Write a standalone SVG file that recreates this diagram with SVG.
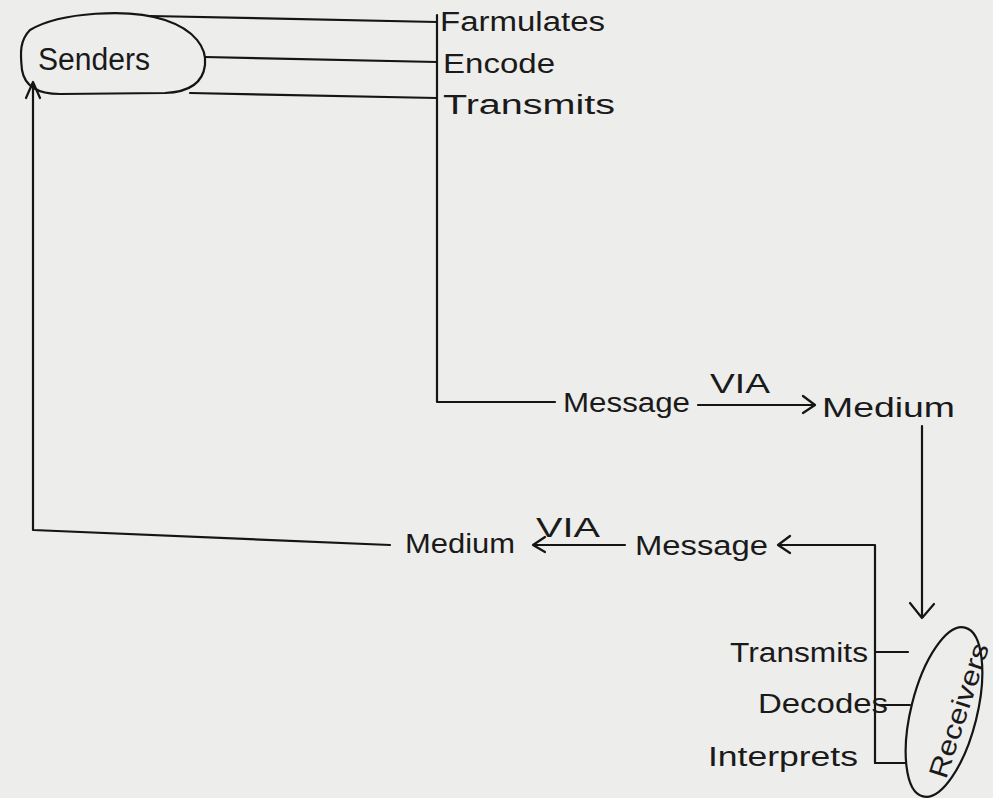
<svg xmlns="http://www.w3.org/2000/svg" width="993" height="798" viewBox="0 0 993 798">
<defs>
<style>
.t{font-family:"Liberation Sans",Arial,sans-serif;font-size:27px;fill:#1a1a1a}
.l{fill:none;stroke:#151515;stroke-width:2.2;stroke-linecap:round;stroke-linejoin:round}
</style>
</defs>
<rect width="993" height="798" fill="#ededeb"/>
<g id="connectors">
<path class="l" d="M150,16 L437,22"/>
<path class="l" d="M205,57 L437,62"/>
<path class="l" d="M190,93 L437,98"/>
<path class="l" d="M437,15 L437,402 L555,402"/>
<path class="l" d="M698,405 L815,405 M803,396 L815,405 L803,413"/>
<path class="l" d="M922,426 L922,618 M910,603 L922,618 L934,604"/>
<path class="l" d="M875,545 L778,545 M790,536 L778,545 L790,553 M875,545 L875,763"/>
<path class="l" d="M875,652 L908,652 M875,763 L905,763"/>
<path class="l" d="M880,705 L910,705" stroke-width="4"/>
<path class="l" d="M625,545 L535,545 M545,537 L533,545 L545,552"/>
<path class="l" d="M390,545 L33,530 L33,82 M26,98 L33,82 L40,98"/>
</g>
<g id="senders">
<path class="l" d="M30,30 C60,12 130,8 165,20 C195,30 207,48 205,65 C203,82 190,92 165,93 L60,94 C40,94 25,88 22,70 C20,52 20,40 30,30 Z"/>
<text class="t" x="38" y="70" style="font-size:31px" textLength="112" lengthAdjust="spacingAndGlyphs">Senders</text>
</g>
<g id="sender-actions">
<text class="t" x="440" y="31" textLength="165" lengthAdjust="spacingAndGlyphs">Farmulates</text>
<text class="t" x="443" y="73" textLength="112" lengthAdjust="spacingAndGlyphs">Encode</text>
<text class="t" x="443" y="114" textLength="172" lengthAdjust="spacingAndGlyphs">Transmits</text>
</g>
<g id="message-top"><text class="t" x="563" y="412" textLength="127" lengthAdjust="spacingAndGlyphs">Message</text></g>
<g id="via-top"><text class="t" x="710" y="393" textLength="60" lengthAdjust="spacingAndGlyphs">VIA</text></g>
<g id="medium-top"><text class="t" x="822" y="417" textLength="133" lengthAdjust="spacingAndGlyphs">Medium</text></g>
<g id="medium-bottom"><text class="t" x="405" y="553" textLength="110" lengthAdjust="spacingAndGlyphs">Medium</text></g>
<g id="via-bottom"><text class="t" x="536" y="537" textLength="64" lengthAdjust="spacingAndGlyphs">VIA</text></g>
<g id="message-bottom"><text class="t" x="635" y="555" textLength="133" lengthAdjust="spacingAndGlyphs">Message</text></g>
<g id="receiver-actions">
<text class="t" x="730" y="662" textLength="138" lengthAdjust="spacingAndGlyphs">Transmits</text>
<text class="t" x="758" y="713" textLength="130" lengthAdjust="spacingAndGlyphs">Decodes</text>
<text class="t" x="708" y="766" textLength="150" lengthAdjust="spacingAndGlyphs">Interprets</text>
</g>
<g id="receivers">
<ellipse class="l" cx="944" cy="712" rx="33" ry="87" transform="rotate(14 944 712)"/>
<text class="t" x="0" y="0" textLength="140" lengthAdjust="spacingAndGlyphs" transform="translate(946,780) rotate(-72)">Receivers</text>
</g>
</svg>
